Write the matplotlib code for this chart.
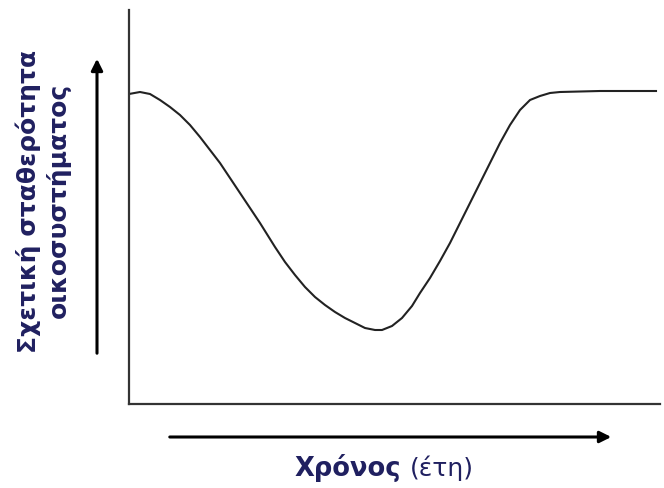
import matplotlib.pyplot as plt
from matplotlib.patches import FancyArrowPatch

# curve (x: time, y: relative stability)
time = [0, 11, 21, 31, 41, 51, 61, 71, 81, 91, 101, 111, 121, 131, 146, 156,
        166, 176, 186, 196, 206, 216, 226, 236, 246, 253, 263, 273, 283, 291,
        301, 311, 321, 331, 341, 351, 361, 371, 381, 391, 401, 411, 421, 431,
        471, 527]
stability = [310, 312, 310, 304, 297, 289, 279, 267, 254, 241, 226, 211, 196,
             181, 157, 142, 129, 117, 107, 99, 92, 86, 81, 76, 74, 74, 78, 86,
             98, 111, 126, 143, 161, 181, 201, 221, 241, 261, 279, 294, 304,
             308, 311, 312, 313, 313]

navy = "#202060"

fig = plt.figure(figsize=(6.64, 4.88), dpi=100)
ax = fig.add_axes([129 / 664, 84 / 488, 531 / 664, 394 / 488])
ax.plot(time, stability, color="#222222", lw=1.5, solid_joinstyle="round")
ax.set_xlim(0, 531)
ax.set_ylim(0, 394)
ax.set_xticks([])
ax.set_yticks([])
for side in ["top", "right"]:
    ax.spines[side].set_visible(False)
for side in ["left", "bottom"]:
    ax.spines[side].set_linewidth(1.6)
    ax.spines[side].set_color("#333333")

# arrows outside the axes
fig.add_artist(FancyArrowPatch((97 / 664, 1 - 356 / 488), (97 / 664, 1 - 56 / 488),
                               transform=fig.transFigure, arrowstyle="-|>",
                               mutation_scale=17, lw=2.2, color="black"))
fig.add_artist(FancyArrowPatch((167 / 664, 1 - 437 / 488), (614 / 664, 1 - 437 / 488),
                               transform=fig.transFigure, arrowstyle="-|>",
                               mutation_scale=17, lw=2.2, color="black"))

# labels
fig.text(28 / 664, 1 - 201 / 488, "Σχετική σταθερότητα", rotation=90,
         ha="center", va="center", fontsize=18, fontweight="bold", color=navy)
fig.text(58 / 664, 1 - 200 / 488, "οικοσυστήματος", rotation=90,
         ha="center", va="center", fontsize=18, fontweight="bold", color=navy)
fig.text(401 / 664, 1 - 468 / 488, "Χρόνος", ha="right", va="center",
         fontsize=18.5, fontweight="bold", color=navy)
fig.text(410 / 664, 1 - 468 / 488, "(έτη)", ha="left", va="center",
         fontsize=18, color=navy)

fig.savefig("out.png", dpi=100)
